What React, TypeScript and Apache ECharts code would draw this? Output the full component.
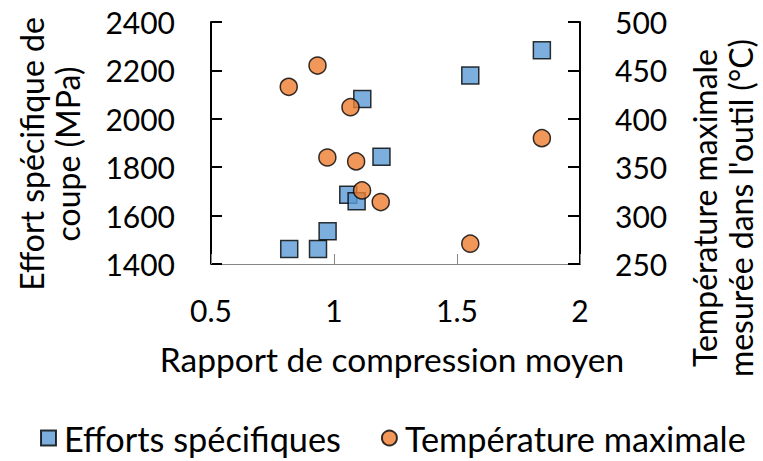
import React, { useEffect, useRef } from 'react';
import * as echarts from 'echarts';

// Efforts spécifiques (left axis, MPa)
const effortX = [0.818, 0.935, 0.974, 1.058, 1.092, 1.193, 1.115, 1.554, 1.845];
const effortY = [1462, 1462, 1535, 1686, 1659, 1843, 2082, 2179, 2283];
// Température maximale (right axis, °C)
const tempX = [0.816, 0.933, 1.067, 0.973, 1.09, 1.114, 1.19, 1.554, 1.845];
const tempY = [433, 455, 412, 360, 356, 326, 314, 271, 380];

const seriesNames = ['Efforts spécifiques', 'Température maximale'];
const xTitle = 'Rapport de compression moyen';
const leftTitle = 'Effort spécifique de\ncoupe (MPa)';
const rightTitle = "Température maximale\nmesurée dans l'outil (°C)";

const FONT = 'Lato';
const FS = 30;

export default function App() {
  const ref = useRef<HTMLDivElement>(null);
  useEffect(() => {
    const chart = echarts.init(ref.current!, null, { renderer: 'svg' });
    const effortData = effortX.map((x, i) => [x, effortY[i]]);
    const tempData = tempX.map((x, i) => [x, tempY[i]]);
    const plain = (v: number) => String(v);
    chart.setOption({
      animation: false,
      backgroundColor: '#ffffff',
      textStyle: { fontFamily: FONT },
      grid: { left: 211, right: 183, top: 22, bottom: 197, containLabel: false },
      legend: {
        left: 40,
        top: 421,
        padding: 0,
        itemWidth: 15,
        itemHeight: 15,
        itemGap: 40,
        textStyle: {
          fontFamily: FONT,
          fontSize: 34.3,
          lineHeight: 34,
          color: '#000',
          padding: [0, 0, 0, 3],
        },
        data: [
          { name: seriesNames[0], icon: 'rect' },
          { name: seriesNames[1], icon: 'circle' },
        ],
      },
      xAxis: {
        type: 'value',
        min: 0.5,
        max: 2,
        interval: 0.5,
        splitLine: { show: false },
        axisLine: { show: true, lineStyle: { color: '#868686', width: 1 } },
        axisTick: { show: true, inside: true, length: 10, lineStyle: { color: '#868686', width: 1 } },
        axisLabel: { fontFamily: FONT, fontSize: FS, color: '#000', margin: 31, formatter: plain },
      },
      yAxis: [
        {
          type: 'value',
          min: 1400,
          max: 2400,
          interval: 200,
          position: 'left',
          splitLine: { show: false },
          axisLine: { show: true, lineStyle: { color: '#000', width: 2 } },
          axisTick: { show: true, inside: true, length: 11, lineStyle: { color: '#000', width: 2 } },
          axisLabel: { fontFamily: FONT, fontSize: FS, color: '#000', margin: 36, formatter: plain },
        },
        {
          type: 'value',
          min: 250,
          max: 500,
          interval: 50,
          position: 'right',
          splitLine: { show: false },
          axisLine: { show: true, lineStyle: { color: '#000', width: 2 } },
          axisTick: { show: true, inside: true, length: 12, lineStyle: { color: '#000', width: 2 } },
          axisLabel: { fontFamily: FONT, fontSize: FS, color: '#000', margin: 35, formatter: plain },
        },
      ],
      graphic: [
        {
          type: 'text',
          x: 392,
          y: 359,
          style: {
            text: xTitle,
            fontFamily: FONT,
            fontSize: 33.5,
            fill: '#000',
            align: 'center',
            verticalAlign: 'middle',
          },
        },
        {
          type: 'text',
          x: 49,
          y: 154,
          rotation: Math.PI / 2,
          style: {
            text: leftTitle,
            fontFamily: FONT,
            fontSize: 32,
            lineHeight: 36,
            fill: '#000',
            align: 'center',
            verticalAlign: 'middle',
          },
        },
        {
          type: 'text',
          x: 722,
          y: 208,
          rotation: Math.PI / 2,
          style: {
            text: rightTitle,
            fontFamily: FONT,
            fontSize: 32,
            lineHeight: 36,
            fill: '#000',
            align: 'center',
            verticalAlign: 'middle',
          },
        },
      ],
      series: [
        {
          name: seriesNames[0],
          type: 'scatter',
          yAxisIndex: 0,
          symbol: 'rect',
          symbolSize: 17,
          itemStyle: { color: '#5B9BD5', borderColor: '#000', borderWidth: 1.5 },
          data: effortData,
          z: 2,
        },
        {
          name: seriesNames[1],
          type: 'scatter',
          yAxisIndex: 1,
          symbol: 'circle',
          symbolSize: 17,
          itemStyle: { color: '#ED7D31', borderColor: '#000', borderWidth: 1.5 },
          data: tempData,
          z: 3,
        },
      ],
    });
    return () => chart.dispose();
  }, []);
  return (
    <div
      ref={ref}
      style={{ position: 'fixed', left: 0, top: 0, width: 763, height: 461, background: '#fff' }}
    />
  );
}
